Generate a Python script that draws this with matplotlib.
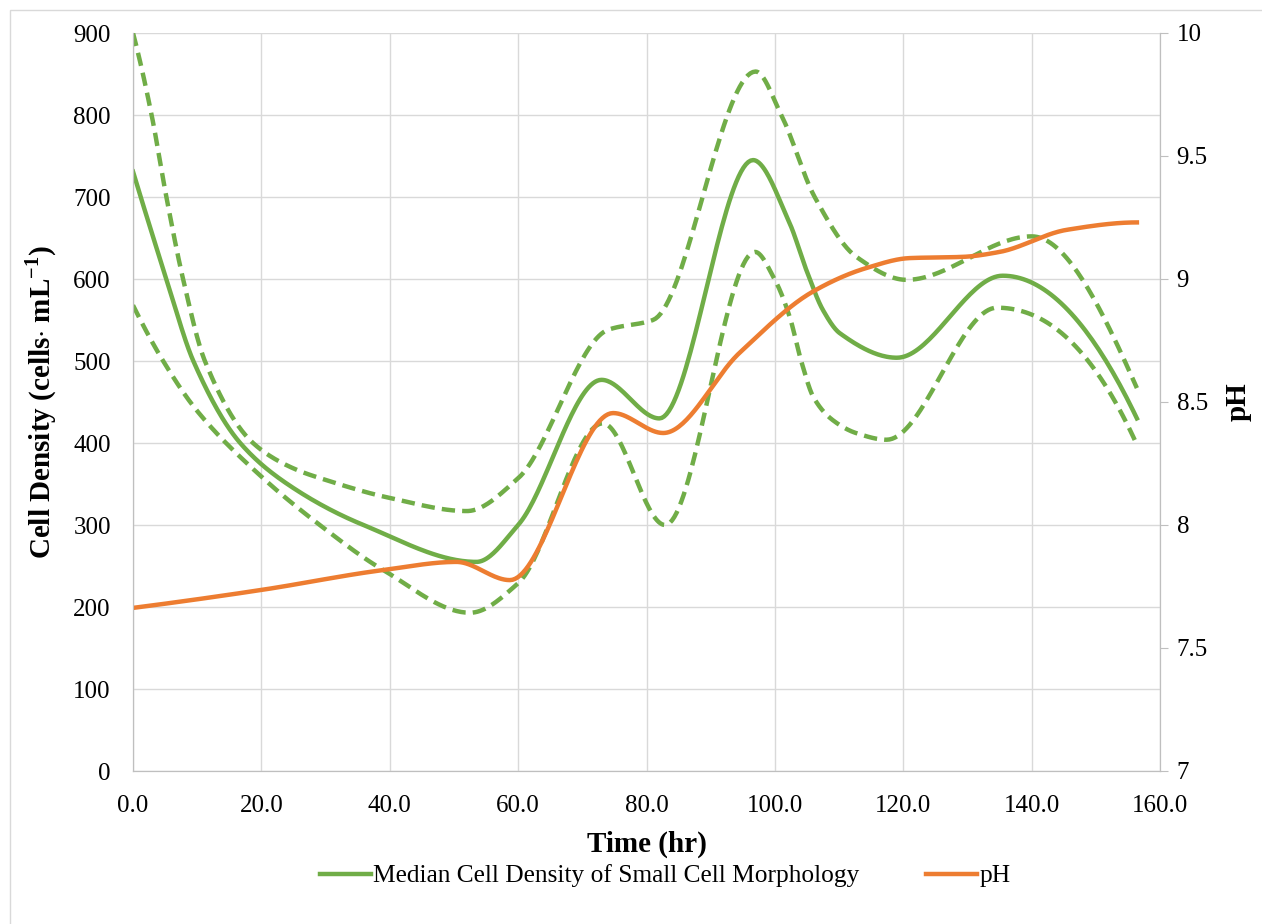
import numpy as np
import matplotlib
matplotlib.use("Agg")
import matplotlib.pyplot as plt
from matplotlib.patches import Rectangle
from matplotlib.lines import Line2D

plt.rcParams["font.family"] = ["Liberation Serif", "DejaVu Serif"]
plt.rcParams["mathtext.fontset"] = "custom"
plt.rcParams["mathtext.rm"] = "Liberation Serif"
plt.rcParams["mathtext.bf"] = "Liberation Serif:bold"

GREEN = "#70AD47"
ORANGE = "#ED7D31"

# knot values (smoothed line series)
median_t = [0, 5.2, 9.4, 16.7, 25, 35.9, 53.5, 60, 73, 82, 96.6, 102.3, 104.9, 107.5, 110.1, 119, 135.5, 156.4]
median_v = [731, 600, 500, 400, 345, 300, 255, 300, 477, 430, 745, 668, 611, 562, 534, 504, 604, 430]

upper_t = [0, 2.9, 5.2, 7.8, 11.2, 18.7, 25, 30, 40, 52, 60, 74, 81, 97, 101, 106.2, 112.7, 120.5, 140, 156.4]
upper_v = [900, 800, 700, 600, 500, 400, 369, 355, 333, 317, 357, 538, 550, 853, 800, 700, 627, 599, 652, 467]

lower_t = [0, 4.7, 9.9, 20, 29.1, 39, 52.5, 60, 73.2, 82.9, 96.9, 100, 102.3, 104.1, 106, 109, 112.7, 117.4, 134.6, 156.4]
lower_v = [568, 500, 440, 359, 300, 245, 193, 229, 424, 300, 633, 599, 554, 500, 456, 428, 412, 404, 565, 398]

ph_t = [0, 20, 39, 50.4, 58.7, 74.8, 82.6, 94.5, 106, 114.3, 121, 129.3, 135, 145.5, 156.4]
ph_v = [7.663, 7.736, 7.817, 7.85, 7.776, 8.455, 8.374, 8.70, 8.95, 9.045, 9.085, 9.09, 9.11, 9.2, 9.23]

x_ticks = [0, 20, 40, 60, 80, 100, 120, 140, 160]
y_ticks = [0, 100, 200, 300, 400, 500, 600, 700, 800, 900]
ph_ticks = [7, 7.5, 8, 8.5, 9, 9.5, 10]
ph_labels = ["7", "7.5", "8", "8.5", "9", "9.5", "10"]


def smooth(xs, ys, n=40):
    # shape-preserving cubic (pchip) through the knots
    x = np.asarray(xs, float)
    y = np.asarray(ys, float)
    h = np.diff(x)
    d = np.diff(y) / h
    m = np.zeros_like(y)
    for i in range(1, len(x) - 1):
        if d[i - 1] * d[i] > 0:
            w1 = 2 * h[i] + h[i - 1]
            w2 = h[i] + 2 * h[i - 1]
            m[i] = (w1 + w2) / (w1 / d[i - 1] + w2 / d[i])
    for i0, a, b, ha, hb in ((0, d[0], d[1], h[0], h[1]), (-1, d[-1], d[-2], h[-1], h[-2])):
        e = ((2 * ha + hb) * a - ha * b) / (ha + hb)
        if e * a <= 0:
            e = 0
        elif a * b < 0 and abs(e) > 3 * abs(a):
            e = 3 * a
        m[i0] = e
    xx, yy = [], []
    s = np.linspace(0, 1, n)
    h00 = 2 * s ** 3 - 3 * s ** 2 + 1
    h10 = s ** 3 - 2 * s ** 2 + s
    h01 = -2 * s ** 3 + 3 * s ** 2
    h11 = s ** 3 - s ** 2
    for i in range(len(h)):
        seg = h00 * y[i] + h10 * h[i] * m[i] + h01 * y[i + 1] + h11 * h[i] * m[i + 1]
        start = 0 if i == 0 else 1
        xx.append(x[i] + s[start:] * h[i])
        yy.append(seg[start:])
    return np.concatenate(xx), np.concatenate(yy)


fig = plt.figure(figsize=(12.62, 9.24), dpi=100)
fig.patches.append(Rectangle((10 / 1262, -0.01), 1.0, 1 - 10 / 924 + 0.01, transform=fig.transFigure,
                             fill=False, edgecolor="#d9d9d9", linewidth=1.0))
ax = fig.add_axes([133 / 1262, 1 - 771 / 924, (1160 - 133) / 1262, (771 - 33) / 924])
ax2 = ax.twinx()

lw = 3.2
x, y = smooth(upper_t, upper_v)
ax.plot(x, y, color=GREEN, lw=lw, dashes=(3, 1.6))
x, y = smooth(lower_t, lower_v)
ax.plot(x, y, color=GREEN, lw=lw, dashes=(3, 1.6))
x, y = smooth(median_t, median_v)
ax.plot(x, y, color=GREEN, lw=lw)
x, y = smooth(ph_t, ph_v)
ax2.plot(x, y, color=ORANGE, lw=lw)

ax.set_xlim(0, 160)
ax.set_ylim(0, 900)
ax2.set_ylim(7, 10)
ax.set_xticks(x_ticks)
ax.set_xticklabels([f"{v:.1f}" for v in x_ticks])
ax.set_yticks(y_ticks)
ax2.set_yticks(ph_ticks)
ax2.set_yticklabels(ph_labels)

ax.grid(True, color="#d9d9d9", linewidth=1.0)
ax.set_axisbelow(True)
for a in (ax, ax2):
    a.spines["top"].set_visible(False)
    for side in ("left", "right", "bottom"):
        a.spines[side].set_color("#bfbfbf")
ax.tick_params(axis="y", labelsize=18, length=0, pad=16)
ax.tick_params(axis="x", labelsize=18, length=0, pad=17)
ax2.tick_params(axis="y", labelsize=18, length=6, color="#bfbfbf", pad=6)

ax.set_xlabel("Time (hr)", fontsize=21, fontweight="bold", labelpad=10)
ax.set_ylabel(r"Cell Density (cells$\cdot$ mL$^{\mathbf{-1}}$)", fontsize=21, fontweight="bold", labelpad=10)
ax2.set_ylabel("pH", fontsize=21, fontweight="bold", rotation=90, labelpad=12)

handles = [Line2D([], [], color=GREEN, lw=lw), Line2D([], [], color=ORANGE, lw=lw)]
fig.legend(handles, ["Median Cell Density of Small Cell Morphology", "pH"], loc="center",
           bbox_to_anchor=(0.527, 1 - 876 / 924), ncol=2, frameon=False, fontsize=18.3,
           handlelength=2.0, handletextpad=0.1, columnspacing=2.6)

fig.savefig("out.png", dpi=100)
